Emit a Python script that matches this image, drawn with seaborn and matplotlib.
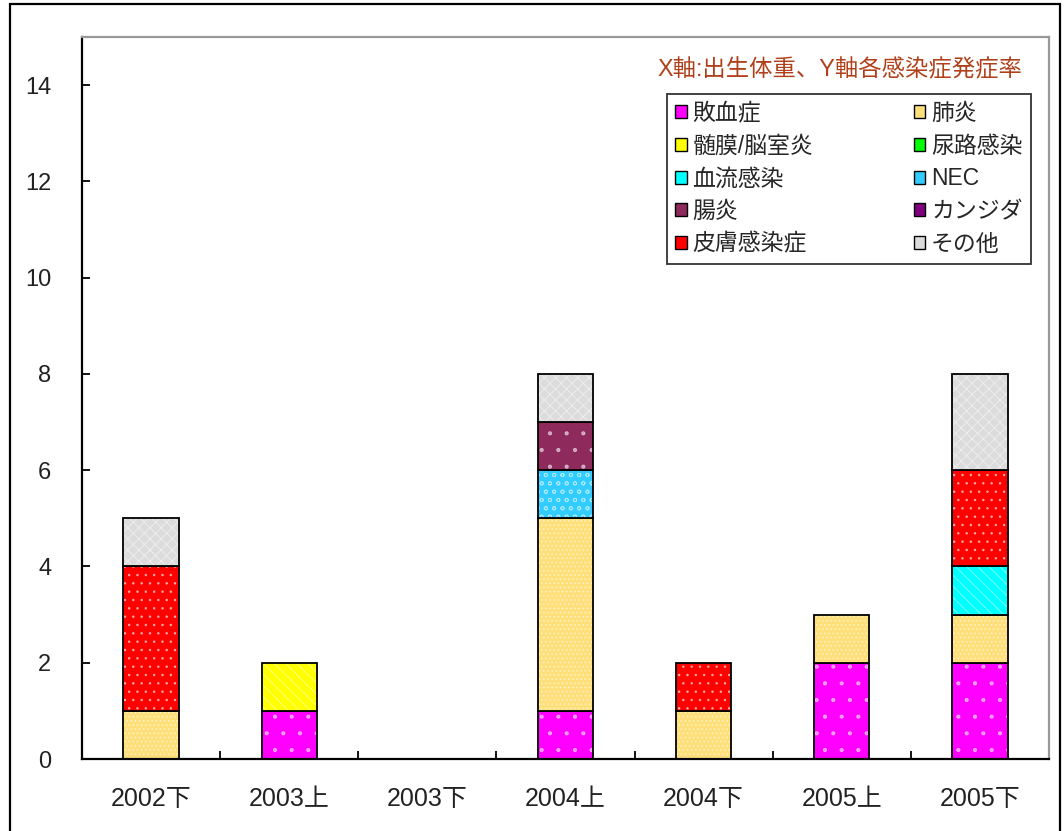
import numpy as np
import pandas as pd
import matplotlib
matplotlib.use("Agg")
import matplotlib.pyplot as plt
import seaborn as sns
from matplotlib.patches import Patch, Rectangle
from matplotlib.ticker import FixedLocator

# data
periods = ["2002下", "2003上", "2003下", "2004上", "2004下", "2005上", "2005下"]
infections = ["敗血症", "肺炎", "髄膜/脳室炎", "尿路感染", "血流感染",
              "NEC", "腸炎", "カンジダ", "皮膚感染症", "その他"]
sepsis      = [0, 1, 0, 1, 0, 2, 2]
pneumonia   = [1, 0, 0, 4, 1, 1, 1]
meningitis  = [0, 1, 0, 0, 0, 0, 0]
uti         = [0, 0, 0, 0, 0, 0, 0]
bloodstream = [0, 0, 0, 0, 0, 0, 1]
nec         = [0, 0, 0, 1, 0, 0, 0]
enteritis   = [0, 0, 0, 1, 0, 0, 0]
candida     = [0, 0, 0, 0, 0, 0, 0]
skin        = [3, 0, 0, 0, 1, 0, 2]
other       = [1, 0, 0, 1, 0, 0, 2]
series = [sepsis, pneumonia, meningitis, uti, bloodstream,
          nec, enteritis, candida, skin, other]

colors = ["#FF00FF", "#FFDF7A", "#FFFF00", "#00FF00", "#00FFFF",
          "#33CCFF", "#8E2A5C", "#800080", "#FF0000", "#DCDCDC"]
hatches = [".", "....", "\\\\\\", "|", "\\\\\\",
           "oo", ".", "+", "..", "xxx"]

sns.set_style("white")
fonts = ["Liberation Sans", "Noto Sans CJK JP", "DejaVu Sans"]
plt.rcParams["font.family"] = fonts
plt.rcParams["hatch.linewidth"] = 0.6

fig = plt.figure(figsize=(10.64, 8.31), dpi=100)
ax = fig.add_axes([0.0771, 0.0866, 0.9088, 0.8689])

bottom = np.zeros(len(periods))
for vals, col, hat in zip(series, colors, hatches):
    vals = np.array(vals, dtype=float)
    n0 = len(ax.patches)
    # fill with white hatch
    sns.barplot(x=periods, y=vals, bottom=bottom, color=col, width=0.4,
                saturation=1, hatch=hat, edgecolor=(1, 1, 1, 0.55),
                linewidth=0, ax=ax, errorbar=None)
    # black outline
    sns.barplot(x=periods, y=vals, bottom=bottom, color="black", fill=False,
                width=0.4, edgecolor="black", linewidth=1.3, ax=ax,
                errorbar=None)
    for p in ax.patches[n0:]:
        if p.get_height() == 0:
            p.set_visible(False)
    bottom += vals

ax.set_xlim(-0.5, 6.5)
ax.set_ylim(0, 15)
ax.yaxis.set_major_locator(FixedLocator(np.arange(0, 15, 2)))
ax.set_xticks(range(len(periods)))
ax.set_xticklabels(periods)
ax.xaxis.set_minor_locator(FixedLocator(np.arange(0.5, 6, 1)))
ax.tick_params(axis="x", which="major", length=0, pad=20, labelsize=18,
               colors="#222222")
ax.tick_params(axis="x", which="minor", direction="in", length=6,
               width=1.3, color="black", bottom=True)
ax.tick_params(axis="y", direction="in", length=6, width=1.3, pad=22,
               labelsize=17, colors="#222222", left=True)
ax.tick_params(axis="y", colors="black", labelcolor="#222222")
ax.set_xlabel("")
ax.set_ylabel("")

for s in ["left", "bottom"]:
    ax.spines[s].set_color("black")
    ax.spines[s].set_linewidth(1.6)
for s in ["top", "right"]:
    ax.spines[s].set_color("#999999")
    ax.spines[s].set_linewidth(1.6)

ax.text(0.972, 0.954, "X軸:出生体重、Y軸各感染症発症率", transform=ax.transAxes,
        ha="right", va="center", fontsize=16.8, color="#B0401A")

handles = [Patch(facecolor=c, edgecolor="black", linewidth=1.0)
           for c in colors]
order = list(range(0, 10, 2)) + list(range(1, 10, 2))
leg = ax.legend([handles[i] for i in order], [infections[i] for i in order],
                ncol=2, loc="upper left", mode="expand",
                bbox_to_anchor=(0.605, 0.921, 0.376, 0),
                fontsize=16.5, frameon=True, fancybox=False,
                handlelength=0.5, handleheight=0.5, handletextpad=0.25,
                columnspacing=1.2, labelspacing=0.42, borderpad=0.35,
                borderaxespad=0)
leg.get_frame().set_edgecolor("black")
leg.get_frame().set_linewidth(1.3)

fig.add_artist(Rectangle((10 / 1064, -0.01), 1050 / 1064, 1 - 4 / 831 + 0.01,
                         transform=fig.transFigure, fill=False,
                         edgecolor="black", linewidth=1.6))

fig.savefig("out.png", dpi=100, facecolor="white")
